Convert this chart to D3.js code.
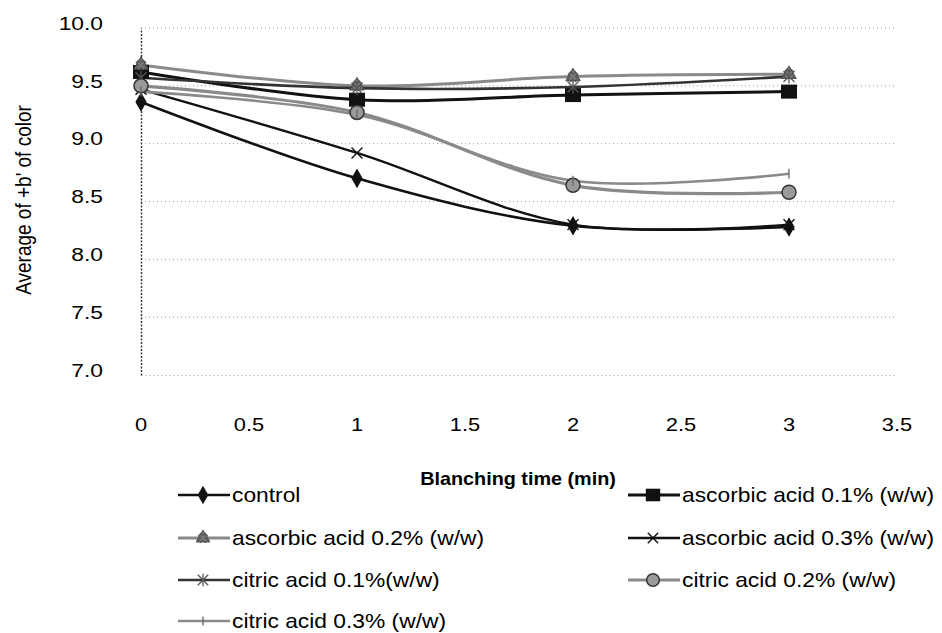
<!DOCTYPE html>
<html>
<head>
<meta charset="utf-8">
<script src="https://cdn.jsdelivr.net/npm/d3@7/dist/d3.min.js"></script>
<style>
  html, body { margin: 0; padding: 0; background: #fff; }
  svg { display: block; font-family: "Liberation Sans", Arial, sans-serif; }
</style>
</head>
<body>
<svg id="chart" width="942" height="633"></svg>
<script>
// ---- data ----
const times = [0, 1, 2, 3];
const control       = [9.36, 8.70, 8.29, 8.28];
const ascorbic01    = [9.62, 9.38, 9.42, 9.45];
const ascorbic02    = [9.68, 9.50, 9.58, 9.60];
const ascorbic03    = [9.47, 8.92, 8.30, 8.30];
const citric01      = [9.57, 9.48, 9.49, 9.58];
const citric02      = [9.50, 9.27, 8.64, 8.58];
const citric03      = [9.45, 9.25, 8.68, 8.74];
const seriesNames = ["control", "ascorbic acid 0.1% (w/w)", "ascorbic acid 0.2% (w/w)",
  "ascorbic acid 0.3% (w/w)", "citric acid 0.1%(w/w)", "citric acid 0.2% (w/w)", "citric acid 0.3% (w/w)"];
const xTicks = [0, 0.5, 1, 1.5, 2, 2.5, 3, 3.5];
const xTickLabels = ["0", "0.5", "1", "1.5", "2", "2.5", "3", "3.5"];
const yTicks = [7.0, 7.5, 8.0, 8.5, 9.0, 9.5, 10.0];
const yTickLabels = ["7.0", "7.5", "8.0", "8.5", "9.0", "9.5", "10.0"];
const xTitle = "Blanching time  (min)";
const yTitle = "Average of  +b' of color";

// ---- styles ----
const BLACK = "#111", GRAY = "#8a8a8a";
const styles = [
  { color: BLACK, width: 2.6, marker: "diamond" },
  { color: BLACK, width: 3.0, marker: "square" },
  { color: GRAY,  width: 3.0, marker: "triangle" },
  { color: BLACK, width: 2.4, marker: "x" },
  { color: "#333", width: 2.6, marker: "asterisk" },
  { color: GRAY,  width: 3.2, marker: "circle" },
  { color: GRAY,  width: 2.6, marker: "plus" }
];
const allValues = [control, ascorbic01, ascorbic02, ascorbic03, citric01, citric02, citric03];
const series = seriesNames.map((name, i) => ({ name, values: allValues[i], style: styles[i] }));

const svg = d3.select("#chart");
const x = d3.scaleLinear().domain([0, 3.5]).range([141, 897]);
const y = d3.scaleLinear().domain([7, 10]).range([375, 28]);

function stretchedText(parent, px, py, txt, opts) {
  const g = parent.append("g").attr("transform", `translate(${px},${py}) scale(${opts.sx || 1},1)`);
  return g.append("text").text(txt)
    .attr("text-anchor", opts.anchor || "start")
    .attr("dominant-baseline", "central")
    .attr("font-size", opts.size)
    .attr("font-weight", opts.weight || "normal")
    .attr("fill", "#000");
}

// gridlines
svg.append("g").selectAll("line").data(yTicks.slice(1)).join("line")
  .attr("x1", x(0)).attr("x2", x(3.5))
  .attr("y1", d => y(d)).attr("y2", d => y(d))
  .attr("stroke", "#9a9a9a").attr("stroke-width", 1)
  .attr("stroke-dasharray", "1,3");

// axes (dotted frame look)
const yAxis = d3.axisLeft(y).tickValues(yTicks).tickSize(0).tickFormat("");
const yAxisG = svg.append("g").attr("transform", `translate(${x(0)},0)`).call(yAxis);
yAxisG.select(".domain").attr("stroke", "#333").attr("stroke-width", 1.4).attr("stroke-dasharray", "2,1.5");
const xAxis = d3.axisBottom(x).tickValues(xTicks).tickSize(0).tickFormat("");
const xAxisG = svg.append("g").attr("transform", `translate(0,${y(7)})`).call(xAxis);
xAxisG.select(".domain").attr("stroke", "#9a9a9a").attr("stroke-width", 1).attr("stroke-dasharray", "1,3");

// tick labels
const tl = svg.append("g");
yTicks.forEach((v, i) => stretchedText(tl, 103, y(v) - 5, yTickLabels[i], { size: 19, sx: 1.2, anchor: "end" }));
xTicks.forEach((v, i) => stretchedText(tl, x(v), 424, xTickLabels[i], { size: 19, sx: 1.15, anchor: "middle" }));

// titles
stretchedText(svg, 518, 479, xTitle, { size: 18, sx: 1.1, anchor: "middle", weight: "bold" });
svg.append("text").text(yTitle)
  .attr("transform", `translate(31,200) rotate(-90) scale(1,1.15)`)
  .attr("text-anchor", "middle").attr("font-size", 19).attr("fill", "#000");

// markers
function drawMarker(g, type, cx, cy, color, s) {
  s = s || 1;
  if (type === "diamond") {
    g.append("path").attr("d", d3.symbol(d3.symbolDiamond, 110 * s)()).attr("transform", `translate(${cx},${cy})`).attr("fill", color);
  } else if (type === "square") {
    g.append("rect").attr("x", cx - 8 * s).attr("y", cy - 7 * s).attr("width", 16 * s).attr("height", 14 * s).attr("fill", color);
  } else if (type === "triangle") {
    g.append("path").attr("d", d3.symbol(d3.symbolTriangle, 90 * s)()).attr("transform", `translate(${cx},${cy})`).attr("fill", "#777").attr("stroke", "#444").attr("stroke-width", 1);
    g.append("path").attr("d", d3.symbol(d3.symbolCross, 60 * s)()).attr("transform", `translate(${cx},${cy}) rotate(45)`).attr("fill", "none").attr("stroke", "#555").attr("stroke-width", 1);
  } else if (type === "x") {
    g.append("path").attr("d", d3.symbol(d3.symbolX, 80 * s)()).attr("transform", `translate(${cx},${cy})`).attr("fill", "none").attr("stroke", color).attr("stroke-width", 1.4);
  } else if (type === "asterisk") {
    g.append("path").attr("d", d3.symbol(d3.symbolX, 80 * s)()).attr("transform", `translate(${cx},${cy})`).attr("fill", "none").attr("stroke", "#555").attr("stroke-width", 1.3);
    g.append("line").attr("x1", cx).attr("x2", cx).attr("y1", cy - 7 * s).attr("y2", cy + 7 * s).attr("stroke", "#555").attr("stroke-width", 1.3);
  } else if (type === "circle") {
    g.append("circle").attr("cx", cx).attr("cy", cy).attr("r", 7 * s).attr("fill", "#9a9a9a").attr("stroke", "#333").attr("stroke-width", 1.5);
  } else if (type === "plus") {
    g.append("line").attr("x1", cx).attr("x2", cx).attr("y1", cy - 5 * s).attr("y2", cy + 5 * s).attr("stroke", "#666").attr("stroke-width", 1.3);
  }
}

// lines
const line = d3.line().x((d, i) => x(times[i])).y(d => y(d)).curve(d3.curveCatmullRom.alpha(0.5));
const plot = svg.append("g");
series.forEach(s => {
  plot.append("path").attr("d", line(s.values)).attr("fill", "none")
    .attr("stroke", s.style.color).attr("stroke-width", s.style.width);
});
series.forEach(s => {
  const mg = plot.append("g");
  s.values.forEach((v, i) => drawMarker(mg, s.style.marker, x(times[i]), y(v), s.style.color));
});

// legend
const legendPos = [
  { lx: 178, ly: 495 }, { lx: 628, ly: 495 },
  { lx: 178, ly: 538 }, { lx: 628, ly: 538 },
  { lx: 178, ly: 580 }, { lx: 628, ly: 580 },
  { lx: 178, ly: 621 }
];
const leg = svg.append("g");
series.forEach((s, i) => {
  const p = legendPos[i];
  leg.append("line").attr("x1", p.lx).attr("x2", p.lx + 52).attr("y1", p.ly).attr("y2", p.ly)
    .attr("stroke", s.style.color).attr("stroke-width", s.style.width);
  drawMarker(leg, s.style.marker, p.lx + 25, p.ly, s.style.color, 0.9);
  stretchedText(leg, p.lx + 54, p.ly, s.name, { size: 20, sx: 1.14 });
});
</script>
</body>
</html>
